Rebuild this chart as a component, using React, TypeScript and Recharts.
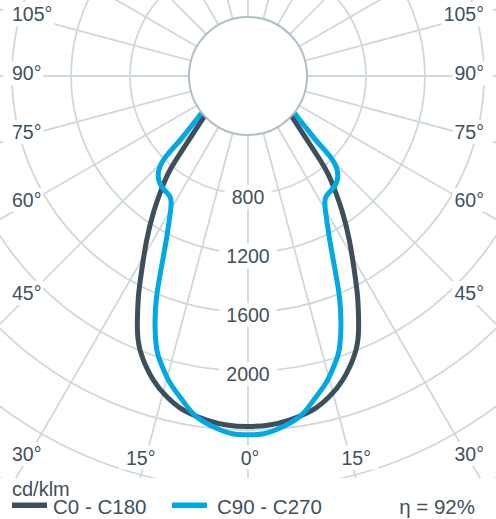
import React from 'react';
import { ComposedChart, XAxis, YAxis, Line, ReferenceLine, ReferenceDot } from 'recharts';

// ---- data (gamma in degrees from nadir, intensity in cd/klm) ----
const C0_C180_GAMMA = [47.5, 42.3, 39.7, 36.9, 34.6, 31.7, 28.7, 26.4, 24.1, 21.5, 17.3, 14.2, 11.0, 6.85, 3.5, 0];
const C0_C180_CD = [400, 617, 828, 994, 1131, 1307, 1500, 1671, 1837, 1997, 2159, 2243, 2306, 2349, 2370, 2376];
const C90_C270_GAMMA = [51.5, 46.7, 45.2, 42.2, 37.9, 32.9, 30.0, 26.8, 24.4, 22.5, 20.6, 18.4, 16.5, 14.2, 11.2, 8.6, 5.1, 2.5, 0];
const C90_C270_CD = [400, 633, 809, 906, 952, 974, 1049, 1221, 1419, 1619, 1791, 1958, 2051, 2149, 2251, 2336, 2398, 2428, 2433];

const RING_VALUES = [800, 1200, 1600, 2000, 2400, 2800, 3200];
const RING_LABEL_VALUES = [800, 1200, 1600, 2000];
const INNER_RING = 400;
const ANGLE_LABELS = [0, 15, 30, 45, 60, 75, 90, 105];
const SERIES_NAMES = ['C0 - C180', 'C90 - C270'];
const UNIT_LABEL = 'cd/klm';
const EFFICIENCY_LABEL = 'η = 92%';

// ---- layout ----
const W = 496;
const H = 478;
const CX = 248;
const CY = 76;
const SCALE = 0.1475; // px per cd/klm
const X_DOMAIN = [-CX / SCALE, (W - CX) / SCALE];
const Y_DOMAIN = [-(H - CY) / SCALE, CY / SCALE];
const RAD = Math.PI / 180;
const GRID = '#cfd8dc';
const CIRCLE_STROKE = '#b0bec5';
const TEXT = '#3f515c';
const DARK = '#3c4f5b';
const BLUE = '#00a8e4';
const COLORS = [DARK, BLUE];
const FONT = '"Liberation Sans", Arial, Helvetica, sans-serif';
const LABEL_FS = 19.5;

const polar = (deg: number, cd: number) => ({
  x: cd * Math.sin(deg * RAD),
  y: -cd * Math.cos(deg * RAD),
});

function buildCurve(g: number[], cd: number[]) {
  const pts: { x: number; y: number }[] = [];
  for (let i = 0; i < g.length; i++) pts.push(polar(-g[i], cd[i]));
  for (let i = g.length - 2; i >= 0; i--) pts.push(polar(g[i], cd[i]));
  return pts;
}

const curves = [buildCurve(C0_C180_GAMMA, C0_C180_CD), buildCurve(C90_C270_GAMMA, C90_C270_CD)];
const SPOKES = Array.from({ length: 24 }, (_, k) => k * 15);

const textW = (t: string, fs: number) => {
  let w = 0;
  for (const ch of t) w += ch === '°' ? 0.4 : 0.556;
  return w * fs;
};

const sideLabelShape = (text: string, side: number) => (p: any) => {
  const w = textW(text, LABEL_FS);
  const cy = p.cy - 3;
  const x0 = side < 0 ? p.cx - 16 : p.cx + 16 - w;
  const rx = side < 0 ? x0 - 9 : x0 - 2;
  return (
    <g>
      <rect x={rx} y={cy - 12} width={w + 11} height={24} fill="#fff" />
      <text x={x0} y={cy + 0.36 * LABEL_FS} fontSize={LABEL_FS} fill={TEXT} fontFamily={FONT}>
        {text}
      </text>
    </g>
  );
};

const centerLabelShape = (text: string, dx: number, dy: number) => (p: any) => {
  const w = textW(text, LABEL_FS);
  const cx = p.cx + dx;
  const cy = p.cy + dy;
  return (
    <g>
      <rect x={cx - w / 2 - 7} y={cy - 12} width={w + 14} height={24} fill="#fff" />
      <text x={cx} y={cy + 0.36 * LABEL_FS} textAnchor="middle" fontSize={LABEL_FS} fill={TEXT} fontFamily={FONT}>
        {text}
      </text>
    </g>
  );
};

type LabelSpec = { key: string; x: number; y: number; shape: any };

const angleLabels: LabelSpec[] = [];
ANGLE_LABELS.forEach((a) => {
  const text = `${a}°`;
  if (a <= 15) {
    const yData = -(457.5 - CY) / SCALE;
    const xData = Math.abs(yData) * Math.tan(a * RAD);
    if (a === 0) {
      angleLabels.push({ key: 'b0', x: 0, y: yData, shape: centerLabelShape(text, 2, 0) });
    } else {
      angleLabels.push({ key: `bl${a}`, x: -xData, y: yData, shape: centerLabelShape(text, -5, 0) });
      angleLabels.push({ key: `br${a}`, x: xData, y: yData, shape: centerLabelShape(text, 6, 0) });
    }
  } else {
    const xData = (CX - 28) / SCALE;
    const yData = Math.abs(a - 90) < 1e-6 ? 0 : -xData / Math.tan(a * RAD);
    angleLabels.push({ key: `sl${a}`, x: -xData, y: yData, shape: sideLabelShape(text, -1) });
    angleLabels.push({ key: `sr${a}`, x: xData, y: yData, shape: sideLabelShape(text, 1) });
  }
});

export default function App() {
  return (
    <div
      style={{
        position: 'absolute',
        left: 0,
        top: 0,
        width: 496,
        height: 519,
        background: '#fff',
        fontFamily: FONT,
        overflow: 'hidden',
      }}
    >
      <ComposedChart width={W} height={H} margin={{ top: 0, right: 0, bottom: 0, left: 0 }}>
        <XAxis type="number" dataKey="x" domain={X_DOMAIN} allowDataOverflow hide />
        <YAxis type="number" dataKey="y" domain={Y_DOMAIN} allowDataOverflow hide />
        {SPOKES.map((a) => (
          <ReferenceLine
            key={`sp${a}`}
            segment={[{ x: 0, y: 0 }, polar(a, 9000)]}
            stroke={GRID}
            strokeWidth={1.8}
            ifOverflow="hidden"
            zIndex={-100}
          />
        ))}
        {RING_VALUES.map((v) => (
          <ReferenceDot
            key={`ring${v}`}
            x={0}
            y={0}
            r={v * SCALE}
            fill="none"
            stroke={GRID}
            strokeWidth={1.8}
            ifOverflow="hidden"
            zIndex={-90}
          />
        ))}
        {curves.map((pts, i) => (
          <Line
            key={SERIES_NAMES[i]}
            name={SERIES_NAMES[i]}
            data={pts}
            dataKey="y"
            type="natural"
            stroke={COLORS[i]}
            strokeWidth={5}
            dot={false}
            activeDot={false}
            isAnimationActive={false}
            zIndex={400 + i}
          />
        ))}
        <ReferenceDot
          x={0}
          y={0}
          r={INNER_RING * SCALE}
          fill="#fff"
          stroke={CIRCLE_STROKE}
          strokeWidth={2}
          zIndex={1500}
        />
        {RING_LABEL_VALUES.map((v) => (
          <ReferenceDot
            key={`rl${v}`}
            x={0}
            y={-v}
            r={1}
            shape={centerLabelShape(String(v), 0, 3)}
            zIndex={1600}
          />
        ))}
        {angleLabels.map((l) => (
          <ReferenceDot key={l.key} x={l.x} y={l.y} r={1} shape={l.shape} zIndex={1600} />
        ))}
      </ComposedChart>
      <svg width={496} height={41} style={{ position: 'absolute', left: 0, top: 478 }}>
        <text x={12} y={17.5} fontSize={20} fill={TEXT} fontFamily={FONT}>
          {UNIT_LABEL}
        </text>
        <rect x={12} y={24.5} width={35} height={5.5} fill={COLORS[0]} />
        <text x={53} y={35.5} fontSize={20.5} fill={TEXT} fontFamily={FONT}>
          {SERIES_NAMES[0]}
        </text>
        <rect x={172} y={24.5} width={35} height={5.5} fill={COLORS[1]} />
        <text x={217} y={35.5} fontSize={20.5} fill={TEXT} fontFamily={FONT}>
          {SERIES_NAMES[1]}
        </text>
        <text x={475} y={35.5} textAnchor="end" fontSize={20.5} fill={TEXT} fontFamily={FONT}>
          {EFFICIENCY_LABEL}
        </text>
      </svg>
    </div>
  );
}
